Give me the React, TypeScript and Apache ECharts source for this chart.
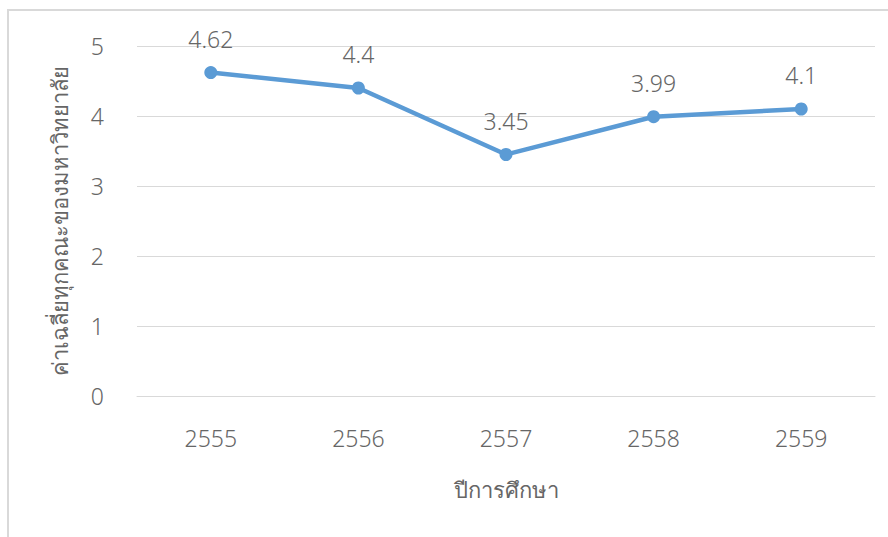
import React, { useEffect, useRef } from "react";
import * as echarts from "echarts";

const years = ["2555", "2556", "2557", "2558", "2559"];
const averages = [4.62, 4.4, 3.45, 3.99, 4.1];
const yTitle = "ค่าเฉลี่ยทุกคณะของมหาวิทยาลัย";
const xTitle = "ปีการศึกษา";

const FONT = "'Noto Sans', 'DejaVu Sans', sans-serif";
const TEXT = "#666666";

export default function App() {
  const ref = useRef<HTMLDivElement>(null);
  useEffect(() => {
    if (!ref.current) return;
    const chart = echarts.init(ref.current, undefined, { renderer: "svg" });
    chart.setOption({
      animation: false,
      backgroundColor: "#ffffff",
      graphic: [
        {
          type: "rect",
          shape: { x: 8, y: 10, width: 900, height: 600 },
          style: { fill: "none", stroke: "#d9d9d9", lineWidth: 2 },
          silent: true,
        },
      ],
      grid: { left: 137, right: 13, top: 46, bottom: 141, containLabel: false },
      xAxis: {
        type: "category",
        data: years,
        boundaryGap: true,
        axisLine: { show: true, lineStyle: { color: "#d9d9d9", width: 1 } },
        axisTick: { show: false },
        axisLabel: { color: TEXT, fontSize: 23, fontWeight: 300, margin: 30, fontFamily: FONT },
        name: xTitle,
        nameLocation: "middle",
        nameGap: 82,
        nameTextStyle: { color: TEXT, fontSize: 22, fontWeight: 300, fontFamily: FONT },
      },
      yAxis: {
        type: "value",
        min: 0,
        max: 5,
        interval: 1,
        axisLine: { show: false },
        axisTick: { show: false },
        splitLine: { lineStyle: { color: "#d9d9d9", width: 1 } },
        axisLabel: { color: TEXT, fontSize: 23, fontWeight: 300, margin: 33, fontFamily: FONT },
        name: yTitle,
        nameLocation: "middle",
        nameGap: 67,
        nameRotate: 90,
        nameTextStyle: { color: TEXT, fontSize: 22, fontWeight: 300, fontFamily: FONT },
      },
      series: [
        {
          type: "line",
          data: averages,
          symbol: "circle",
          symbolSize: 13,
          lineStyle: { color: "#5b9bd5", width: 4.5 },
          itemStyle: { color: "#5b9bd5" },
          label: {
            show: true,
            position: "top",
            distance: 16,
            color: TEXT,
            fontSize: 23,
            fontWeight: 300,
            fontFamily: FONT,
          },
        },
      ],
    });
    return () => chart.dispose();
  }, []);
  return (
    <div
      ref={ref}
      style={{ position: "fixed", left: 0, top: 0, width: 888, height: 537 }}
    />
  );
}
